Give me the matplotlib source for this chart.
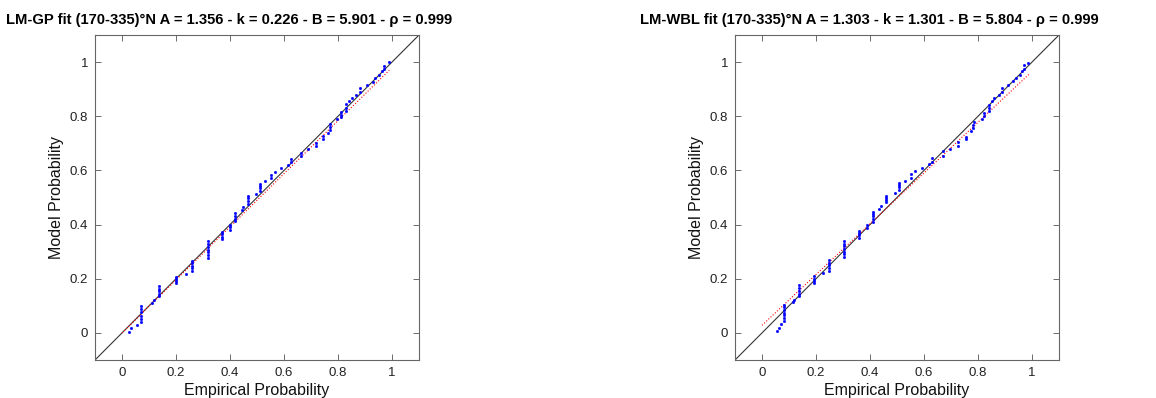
import matplotlib.pyplot as plt
import numpy as np

plt.rcParams['font.family'] = ['Liberation Sans', 'DejaVu Sans']

# Left panel: LM-GP fit
gpEmp = [0.027, 0.034, 0.055,
         0.069, 0.069, 0.069, 0.069, 0.069, 0.069,
         0.110, 0.119,
         0.138, 0.138, 0.138, 0.138, 0.138,
         0.200, 0.200, 0.200, 0.200,
         0.237,
         0.260, 0.260, 0.260, 0.260, 0.260,
         0.317, 0.317, 0.317, 0.317, 0.317, 0.317, 0.317,
         0.371, 0.371, 0.371, 0.371,
         0.400, 0.400, 0.400,
         0.418, 0.418, 0.418, 0.418,
         0.445, 0.449,
         0.467, 0.467, 0.467, 0.467,
         0.497,
         0.510, 0.510, 0.510, 0.510,
         0.530, 0.552, 0.552, 0.567, 0.589, 0.616, 0.625, 0.625,
         0.664, 0.664, 0.690, 0.718, 0.718, 0.744, 0.744, 0.763,
         0.770, 0.770, 0.770, 0.798, 0.812, 0.812, 0.812,
         0.829, 0.829, 0.829, 0.839, 0.850, 0.865, 0.880, 0.880,
         0.907, 0.928, 0.936, 0.952, 0.962, 0.969, 0.969, 0.989]
gpMod = [0.005, 0.017, 0.028,
         0.040, 0.052, 0.064, 0.076, 0.088, 0.100,
         0.112, 0.122,
         0.135, 0.144, 0.153, 0.162, 0.172,
         0.183, 0.190, 0.198, 0.206,
         0.217,
         0.228, 0.238, 0.248, 0.258, 0.267,
         0.275, 0.286, 0.297, 0.307, 0.317, 0.328, 0.338,
         0.345, 0.355, 0.365, 0.374,
         0.380, 0.390, 0.400,
         0.412, 0.422, 0.432, 0.444,
         0.455, 0.466,
         0.477, 0.487, 0.497, 0.505,
         0.514,
         0.525, 0.535, 0.544, 0.551,
         0.562, 0.572, 0.584, 0.596, 0.609, 0.621, 0.632, 0.644,
         0.654, 0.665, 0.680, 0.691, 0.703, 0.715, 0.727, 0.740,
         0.750, 0.760, 0.770, 0.789, 0.797, 0.806, 0.814,
         0.820, 0.832, 0.845, 0.857, 0.868, 0.880, 0.890, 0.903,
         0.915, 0.928, 0.940, 0.954, 0.967, 0.974, 0.986, 0.999]
gpFitX = [0.0, 0.99]
gpFitY = [0.0, 0.97]

# Right panel: LM-WBL fit
wblEmp = [0.054, 0.062, 0.071,
          0.082, 0.082, 0.082, 0.082, 0.082, 0.082, 0.082,
          0.113, 0.119,
          0.137, 0.137, 0.137, 0.137, 0.137,
          0.192, 0.192, 0.192, 0.192,
          0.225,
          0.247, 0.247, 0.247, 0.247, 0.247,
          0.304, 0.304, 0.304, 0.304, 0.304, 0.304, 0.304,
          0.359, 0.359, 0.359, 0.359,
          0.390, 0.390,
          0.410, 0.410, 0.410, 0.410, 0.410,
          0.435, 0.442,
          0.459, 0.459, 0.459, 0.459,
          0.493,
          0.507, 0.507, 0.507, 0.507,
          0.530, 0.550, 0.550, 0.567, 0.592, 0.617, 0.628, 0.628,
          0.669, 0.669, 0.697, 0.727, 0.727, 0.755, 0.755, 0.774,
          0.781, 0.781, 0.787, 0.813, 0.824, 0.824,
          0.842, 0.842, 0.842, 0.850, 0.860, 0.876, 0.890, 0.890,
          0.912, 0.931, 0.941, 0.956, 0.964, 0.969, 0.969, 0.986]
wblMod = [0.008, 0.019, 0.033,
          0.045, 0.055, 0.065, 0.075, 0.085, 0.095, 0.104,
          0.114, 0.123,
          0.137, 0.145, 0.155, 0.165, 0.176,
          0.184, 0.190, 0.200, 0.210,
          0.222,
          0.230, 0.240, 0.250, 0.260, 0.268,
          0.280, 0.290, 0.300, 0.310, 0.320, 0.330, 0.340,
          0.350, 0.360, 0.370, 0.376,
          0.386, 0.398,
          0.410, 0.420, 0.430, 0.440, 0.447,
          0.458, 0.470,
          0.482, 0.490, 0.500, 0.506,
          0.517,
          0.527, 0.537, 0.545, 0.552,
          0.562, 0.572, 0.588, 0.598, 0.610, 0.623, 0.630, 0.645,
          0.655, 0.670, 0.680, 0.692, 0.706, 0.716, 0.725, 0.744,
          0.758, 0.768, 0.779, 0.789, 0.800, 0.812,
          0.820, 0.832, 0.843, 0.857, 0.867, 0.880, 0.891, 0.905,
          0.917, 0.929, 0.940, 0.954, 0.966, 0.974, 0.988, 0.998]
wblFitX = [0.0, 0.99]
wblFitY = [0.028, 0.956]

titles = ['LM-GP fit (170-335)°N A = 1.356 - k = 0.226 - B = 5.901 - ρ = 0.999',
          'LM-WBL fit (170-335)°N A = 1.303 - k = 1.301 - B = 5.804 - ρ = 0.999']
ticks = [0, 0.2, 0.4, 0.6, 0.8, 1]
tickLabels = ['0', '0.2', '0.4', '0.6', '0.8', '1']

fig = plt.figure(figsize=(11.56, 3.98), dpi=100)
axLeft = fig.add_axes([95 / 1156, 38 / 398, 324 / 1156, 325 / 398])
axRight = fig.add_axes([735 / 1156, 38 / 398, 324 / 1156, 325 / 398])

panels = [(axLeft, gpEmp, gpMod, gpFitX, gpFitY, titles[0]),
          (axRight, wblEmp, wblMod, wblFitX, wblFitY, titles[1])]

for ax, emp, mod, fitX, fitY, title in panels:
    ax.plot([-0.1, 1.1], [-0.1, 1.1], color='#333333', lw=0.8)
    ax.plot(fitX, fitY, color='red', lw=0.8, ls=':')
    ax.plot(emp, mod, ls='none', marker='o', ms=1.6, mfc='blue', mec='blue', mew=0.5)
    ax.set_xlim(-0.1, 1.1)
    ax.set_ylim(-0.1, 1.1)
    ax.set_xticks(ticks)
    ax.set_xticklabels(tickLabels)
    ax.set_yticks(ticks)
    ax.set_yticklabels(tickLabels)
    ax.tick_params(direction='in', top=True, right=True, length=4, width=0.6,
                   color='#555555', labelsize=9.5, labelcolor='#222222', pad=5)
    for sp in ax.spines.values():
        sp.set_color('#666666')
        sp.set_linewidth(0.8)
    ax.set_xlabel('Empirical Probability', fontsize=11.5, labelpad=3, color='#111111')
    ax.set_ylabel('Model Probability', fontsize=11.5, labelpad=4, color='#111111')
    ax.set_title(title, fontsize=10.6, fontweight='bold', x=0.415, pad=8)

fig.savefig('out.png', dpi=100)
